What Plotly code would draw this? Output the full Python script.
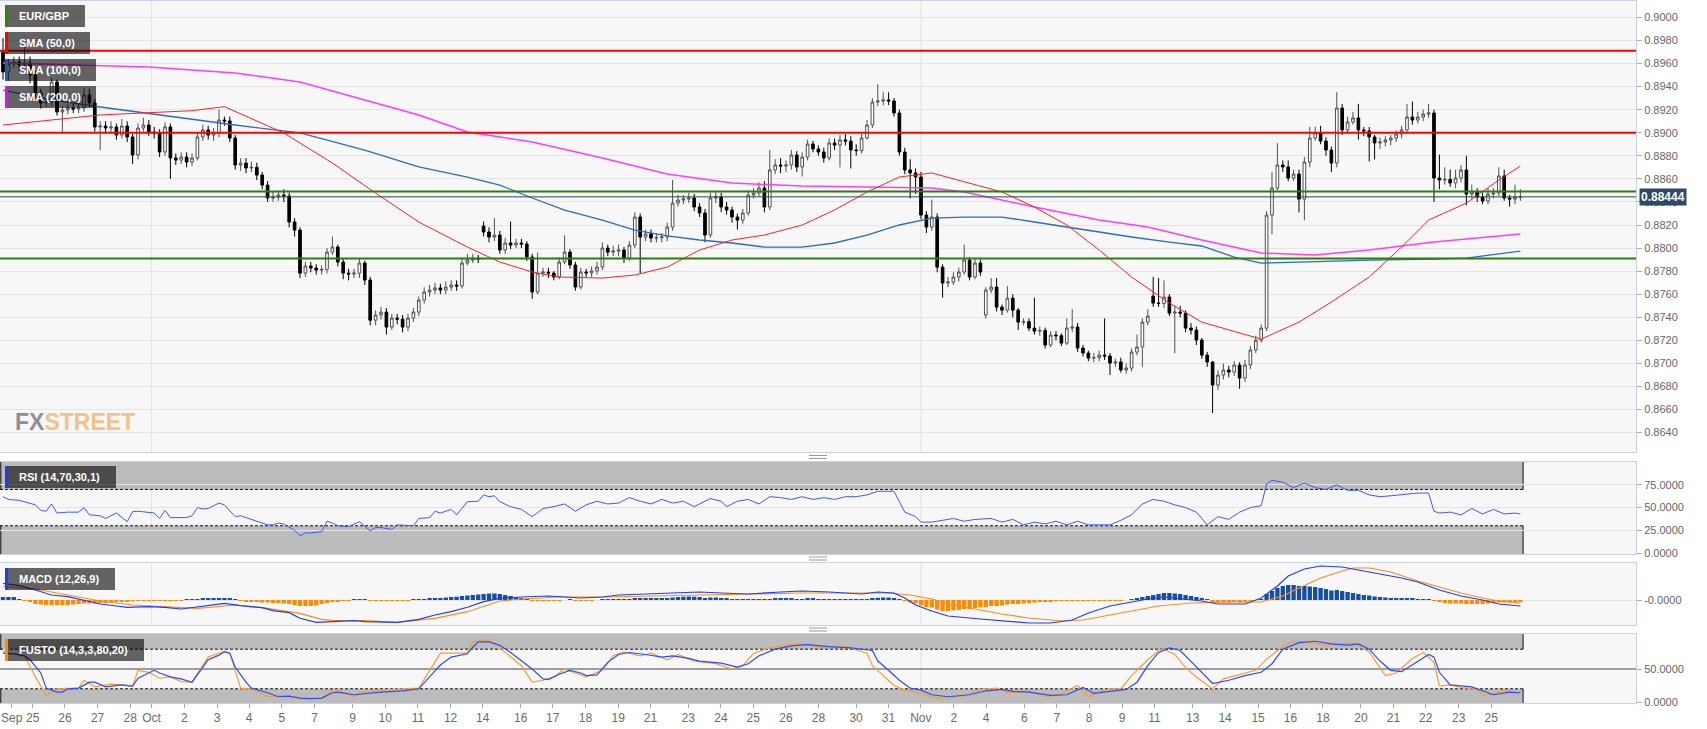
import plotly.graph_objects as go
from plotly.subplots import make_subplots

# ---------------- DATA ----------------
first_open = 0.8970
gap_opens = {89: 0.88191, 182: 0.87419, 213: 0.87584}

close = [
.89527,.89596,.89613,.89587,.89604,.89501,.89344,.89258,.89266,.89440,
.89180,.89197,.89214,.89206,.89214,.89327,.89258,.89050,.89058,.89041,
.89050,.88980,.89058,.88963,.88807,.89041,.89067,.89006,.88998,.88833,
.89050,.88781,.88763,.88789,.88746,.88781,.88963,.89024,.88980,.88998,
.89110,.89102,.88954,.88720,.88737,.88694,.88700,.88633,.88546,.88434,
.88442,.88460,.88451,.88226,.88156,.87783,.87844,.87827,.87809,.87815,
.87965,.88009,.87879,.87783,.87775,.87783,.87870,.87723,.87375,.87419,
.87445,.87315,.87393,.87384,.87315,.87393,.87445,.87549,.87619,.87636,
.87654,.87636,.87662,.87680,.87671,.87870,.87896,.87913,.87904,.88139,
.88096,.88113,.87983,.88044,.88026,.88044,.88035,.87922,.87619,.87783,
.87792,.87783,.87749,.87879,.87965,.87853,.87662,.87792,.87785,.87801,
.87835,.88000,.87965,.87974,.87983,.87913,.88026,.88269,.88096,.88122,
.88087,.88090,.88096,.88182,.88390,.88416,.88425,.88434,.88356,.88304,
.88113,.88434,.88442,.88356,.88330,.88269,.88243,.88304,.88460,.88477,
.88520,.88356,.88677,.88720,.88711,.88720,.88807,.88703,.88789,.88902,
.88859,.88833,.88781,.88911,.88893,.88937,.88928,.88850,.88845,.88954,
.89067,.89266,.89275,.89284,.89275,.89171,.88833,.88677,.88651,.88616,
.88286,.88182,.88269,.87835,.87697,.87705,.87749,.87792,.87896,.87749,
.87870,.87792,.87636,.87662,.87488,.87462,.87566,.87462,.87358,.87362,
.87306,.87280,.87285,.87159,.87246,.87240,.87176,.87306,.87315,.87133,
.87090,.87046,.87050,.87072,.87064,.87003,.87012,.86943,.86960,.87098,
.87142,.87358,.87410,.87523,.87520,.87575,.87436,.87445,.87436,.87306,
.87289,.87202,.87072,.87012,.86812,.86899,.86943,.86925,.86986,.86873,
.86986,.87116,.87202,.87306,.88286,.88520,.88720,.88703,.88607,.88642,
.88425,.88746,.88954,.88998,.88928,.88850,.88737,.89214,.89024,.89093,
.89128,.89024,.89015,.88963,.88911,.88920,.88937,.88954,.88989,.89024,
.89136,.89110,.89136,.89162,.89171,.88607,.88590,.88595,.88564,.88607,
.88677,.88468,.88486,.88442,.88408,.88468,.88477,.88625,.88434,.88425,
.88442,.88444]

high = [
.8982,.8964,.8966,.8966,.8977,.8966,.8954,.8938,.8930,.8948,
.8946,.8923,.8925,.8925,.8926,.8939,.8938,.8929,.8910,.8910,
.8910,.8908,.8912,.8910,.8899,.8908,.8913,.8911,.8905,.8903,
.8909,.8908,.8882,.8883,.8883,.8882,.8900,.8907,.8906,.8904,
.8920,.8914,.8914,.8898,.8878,.8878,.8875,.8874,.8866,.8858,
.8849,.8850,.8851,.8848,.8826,.8818,.8788,.8788,.8786,.8785,
.8800,.8810,.8803,.8791,.8782,.8782,.8791,.8789,.8775,.8746,
.8749,.8748,.8743,.8743,.8742,.8743,.8748,.8758,.8766,.8768,
.8770,.8769,.8771,.8772,.8772,.8791,.8795,.8795,.8794,.8823,
.8818,.8826,.8815,.8809,.8823,.8808,.8808,.8806,.8795,.8796,
.8783,.8783,.8780,.8792,.8811,.8799,.8788,.8783,.8782,.8784,
.8788,.8805,.8803,.8802,.8803,.8801,.8806,.8831,.8830,.8816,
.8816,.8813,.8813,.8822,.8859,.8846,.8846,.8848,.8847,.8839,
.8834,.8848,.8849,.8848,.8840,.8836,.8830,.8834,.8850,.8852,
.8857,.8858,.8885,.8877,.8878,.8876,.8885,.8884,.8883,.8894,
.8893,.8889,.8887,.8895,.8895,.8898,.8899,.8897,.8890,.8899,
.8911,.8930,.8942,.8935,.8935,.8930,.8920,.8887,.8877,.8869,
.8866,.8832,.8842,.8830,.8786,.8775,.8779,.8783,.8803,.8792,
.8791,.8790,.8766,.8774,.8774,.8751,.8767,.8760,.8748,.8739,
.8739,.8757,.8732,.8731,.8728,.8728,.8726,.8739,.8747,.8735,
.8716,.8711,.8709,.8711,.8739,.8709,.8704,.8705,.8700,.8713,
.8725,.8739,.8747,.8775,.8774,.8772,.8760,.8750,.8750,.8746,
.8735,.8732,.8722,.8710,.8702,.8694,.8700,.8698,.8702,.8701,
.8703,.8715,.8724,.8734,.8832,.8866,.8891,.8876,.8876,.8868,
.8868,.8879,.8905,.8905,.8906,.8896,.8888,.8935,.8925,.8914,
.8918,.8925,.8905,.8905,.8898,.8896,.8897,.8898,.8902,.8906,
.8925,.8927,.8918,.8920,.8925,.8920,.8881,.8870,.8868,.8868,
.8872,.8880,.8855,.8852,.8848,.8852,.8852,.8870,.8868,.8846,
.8855,.8851]

low = [
.8946,.8945,.8956,.8954,.8955,.8943,.8930,.8921,.8922,.8923,
.8915,.8900,.8916,.8917,.8917,.8918,.8922,.8901,.8885,.8900,
.8900,.8894,.8895,.8892,.8873,.8877,.8901,.8897,.8895,.8879,
.8880,.8860,.8872,.8873,.8870,.8871,.8876,.8893,.8894,.8893,
.8896,.8906,.8892,.8868,.8867,.8865,.8866,.8859,.8851,.8840,
.8840,.8841,.8840,.8818,.8810,.8774,.8775,.8779,.8777,.8777,
.8778,.8794,.8784,.8773,.8772,.8774,.8774,.8768,.8733,.8733,
.8738,.8725,.8729,.8734,.8727,.8728,.8736,.8741,.8752,.8758,
.8760,.8760,.8760,.8763,.8763,.8765,.8785,.8787,.8787,.8810,
.8805,.8806,.8795,.8795,.8799,.8800,.8800,.8789,.8756,.8760,
.8775,.8774,.8772,.8773,.8786,.8782,.8763,.8764,.8775,.8775,
.8777,.8781,.8793,.8793,.8793,.8787,.8789,.8800,.8778,.8806,
.8805,.8805,.8805,.8806,.8815,.8836,.8838,.8839,.8832,.8827,
.8805,.8809,.8839,.8831,.8829,.8822,.8816,.8821,.8828,.8843,
.8845,.8831,.8833,.8864,.8865,.8866,.8868,.8866,.8862,.8876,
.8883,.8880,.8874,.8876,.8885,.8870,.8889,.8869,.8880,.8882,
.8894,.8904,.8923,.8924,.8924,.8914,.8880,.8864,.8843,.8847,
.8825,.8813,.8815,.8779,.8757,.8766,.8768,.8771,.8777,.8772,
.8773,.8776,.8739,.8761,.8745,.8742,.8744,.8740,.8729,.8733,
.8728,.8725,.8724,.8713,.8714,.8720,.8715,.8716,.8727,.8710,
.8706,.8702,.8701,.8702,.8703,.8690,.8697,.8692,.8691,.8693,
.8707,.8697,.8733,.8749,.8749,.8748,.8741,.8709,.8740,.8727,
.8725,.8716,.8704,.8697,.8657,.8677,.8686,.8688,.8689,.8678,
.8684,.8695,.8709,.8718,.8728,.8812,.8850,.8866,.8858,.8858,
.8831,.8824,.8870,.8893,.8890,.8880,.8866,.8870,.8898,.8899,
.8907,.8894,.8897,.8875,.8877,.8886,.8888,.8889,.8892,.8895,
.8899,.8907,.8908,.8910,.8913,.8840,.8851,.8855,.8853,.8852,
.8857,.8837,.8843,.8840,.8838,.8838,.8843,.8845,.8841,.8836,
.8838,.8841]

sma50_idx = [0,18,35,41,52,61,69,77,86,92,98,103,111,117,123,129,135,141,148,154,
             160,166,172,177,185,191,197,203,209,216,222,233,240,246,253,259,264,271,277,281]
sma50_val = [.89067,.89154,.89191,.89226,.88998,.88737,.88477,.88226,.88009,.87879,
             .87792,.87749,.87740,.87766,.87835,.87983,.88070,.88113,.88200,.88330,
             .88486,.88616,.88651,.88590,.88486,.88356,.88200,.87983,.87749,.87523,
             .87358,.87211,.87358,.87532,.87749,.88009,.88243,.88390,.88590,.88711]

sma100_idx = [0,9,18,30,43,55,67,77,86,92,98,104,111,117,123,129,135,141,148,154,
              160,166,172,178,185,191,197,203,209,216,222,228,233,240,253,265,271,281]
sma100_val = [.89370,.89284,.89223,.89145,.89067,.88998,.88850,.88703,.88616,.88546,
              .88434,.88330,.88243,.88156,.88105,.88070,.88044,.88009,.88009,.88044,
              .88113,.88200,.88260,.88269,.88269,.88226,.88182,.88139,.88096,.88052,
              .88018,.87922,.87870,.87879,.87896,.87904,.87913,.87974]

sma200_idx = [0,27,43,55,67,77,86,98,111,123,135,148,160,172,178,191,203,212,222,233,243,253,265,281]
sma200_val = [.89605,.89570,.89518,.89440,.89284,.89154,.89006,.88920,.88781,.88642,
              .88564,.88538,.88529,.88520,.88486,.88356,.88243,.88182,.88070,.87957,
              .87940,.87983,.88052,.88122]

red_levels = [0.8971, 0.8900]
green_levels = [0.8849, 0.8791]
last_price = 0.88444

rsi_idx = [0,1,3,6,7,8,9,10,12,14,15,16,18,19,21,23,24,25,28,29,
           30,31,34,35,36,37,38,40,41,43,44,45,48,49,50,51,52,53,54,55,
           56,57,59,60,61,62,64,66,67,68,69,70,72,73,76,77,79,80,81,83,
           84,86,88,89,90,91,92,94,96,98,100,102,104,106,108,110,112,114,116,118,
           120,122,124,126,128,131,133,134,136,138,140,142,144,146,148,150,152,154,156,158,
           160,162,165,166,167,169,170,172,174,176,178,180,183,185,187,189,191,193,195,197,
           199,201,203,205,207,209,211,213,215,217,219,221,223,225,227,229,231,233,234,235,
           237,239,241,243,245,247,249,251,253,255,257,259,262,264,265,266,268,270,272,274,
           276,278,280,281]
rsi_val = [62,59,58,53,47,46,54,44,45,45,50,42,41,38,44,34.5,45.5,46,44,38,
           47,39,39,41,50,48.5,49,55,53,40,41,39,33,31,31,33,32,28,25,19,
           22,22,23.5,35,33,30,29,34.5,30,24.5,28,28,26,31,30,38,39,46,44,48,
           42,56.5,57,64,62,63,56.5,51,48,40,49,51,54,46,53,57,54,55,61,57,
           54,59,55,57,51,60,57,51,57,59,54,62,61,59,62,59,61,59,62,62,
           64,68,68,57,45,40,34,34,36,38,35,37,38,34,37,31,34,32,35,31,
           35,31,31,31,36,42,54,59,57,53,50,45,31,40,37,45,50,52,76,80,
           78,72,77,72,70,75,69,69,64,62,63,64,66,66,46,44,45,42,49,43,
           48,43,44,43]

# MACD values in units of 1e-4
macd_idx = [0,3,6,9,12,15,18,21,23,27,30,33,36,40,41,44,48,50,53,55,
            58,61,65,67,70,73,77,80,83,86,89,92,96,101,107,111,114,120,125,129,
            133,138,144,148,153,159,162,165,167,169,172,175,181,185,190,194,198,201,205,209,
            212,215,219,222,225,230,233,236,238,241,244,248,251,255,259,262,266,270,274,277,281]
macd_val = [16.7,14.3,10,5,3.3,0,-4,-6,-7.3,-6.7,-7.3,-9,-6.7,-4,-3.3,-5.7,-7.7,-10.7,-12.7,-18.3,
            -22.3,-21.7,-20.7,-21.7,-22.3,-22.3,-19.3,-15,-11.7,-7.3,-1.7,1.7,3,4,2,3,5,6,7,8,
            7,6,8,9,8,6,8,7,2,-5,-11,-16,-19,-21,-23,-23,-20,-13,-6,-2,
            1,3,1,-1,-4,-4,2,14,24,31,34,33,30,26,22,18,10,4,0,-4,-6]
signal_idx = [0,6,12,18,24,30,36,43,49,55,59,61,67,73,80,86,92,96,103,111,
              120,129,138,148,157,164,168,172,175,181,185,190,196,200,203,207,211,214,220,227,
              233,237,240,244,248,250,253,257,262,266,270,274,277,281]
signal_val = [13.3,11,5,-1,-5,-6.7,-8.3,-5,-8.3,-13.3,-19.3,-20.3,-20.7,-22.3,-18.3,-11.7,-1,1,3,3,
              4,5,6,7,7,7,5,1,-4,-10,-14,-18,-21,-20,-17,-13,-9,-6,-3,-2,
              -2,4,12,22,29,32,32,28,19,13,7,2,-1,-3]
macd_hist = [
3,3,3,1,-1,-2,-4,-4.5,-5,-5,
-5,-5,-5,-4.5,-4,-3.5,-3.5,-3.5,-3,-3,
-2,-2,-1.5,-1.5,-1,-0.7,-0.5,-0.5,-0.5,-0.5,
-0.5,-0.5,-0.5,-0.3,0.2,0.5,1,1.5,2,2,
2,2,1.5,0.5,-0.5,-1.5,-2,-2,-2.5,-2.5,
-3,-3,-3.5,-4,-5,-6,-6,-6,-5.5,-4,
-3,-2,-1.5,-1,-0.5,0.3,0.5,0.3,-0.3,-0.5,
-0.5,-0.5,-0.3,-0.3,-0.3,-0.2,0.3,0.8,1,1.2,
1.5,2,2.5,3,3.3,4,4.5,5,5.5,6,
6.5,6.5,6,5,4,3,2,1,-0.5,-0.5,
-0.5,-0.5,-0.7,-0.5,0,0.3,-0.3,-0.5,-0.5,-0.3,
0,0.5,0.7,0.8,0.8,0.7,0.8,1.5,1.8,1.8,
1.7,1.5,1.3,1.5,2.5,3,3.3,3.5,3.3,3,
2,2.5,2.5,2,1.5,1,0.5,0.5,0.8,1,
1,0.3,1,1.3,1.3,1.2,1.5,1,1,1.3,
1.2,1,0.5,0.8,0.7,0.8,0.7,0.3,0.2,0.5,
1,1.8,2.2,2.5,2.5,2,0.5,-1,-2.5,-3.5,
-5.5,-7,-7.5,-9.5,-11,-11,-10.5,-10,-9,-9,
-8,-7.5,-7,-6,-6,-5.5,-4.5,-4,-4,-3.5,
-3,-2.5,-2,-2,-1.5,-1,-1,-0.5,-0.3,-0.5,
-0.7,-0.8,-0.7,-0.5,-0.3,-0.5,-0.3,-0.3,0,0.8,
1.5,3,4,5,6,7,7,6.5,6,5,
4,3,1.5,0.5,-1.5,-2,-2.5,-2.5,-2,-2.5,
-2,-1,0,1,6,9,12,14,15,15,
14,14,13.5,13,12,11,9.5,10,9,8,
7,6,5,4.5,3.5,3,2.5,2,2,1.5,
1.5,1.2,1,1,0.8,-1,-2,-3,-3.5,-3.5,
-3.5,-4,-4,-4,-4,-3.5,-3,-2.5,-2.5,-2.5,
-2,-2]

sto_k_idx = [0,1,4,6,8,10,14,15,17,20,24,25,27,29,31,33,35,38,41,42,
             44,46,49,52,55,59,61,62,65,66,70,77,81,83,86,87,90,92,94,96,
             98,100,102,104,106,108,111,113,115,118,120,123,125,128,130,132,135,137,139,142,
             145,148,152,156,160,161,163,165,167,169,172,174,178,181,184,186,190,193,196,199,
             201,203,205,207,209,212,214,215,217,219,221,224,226,229,232,234,237,239,242,245,
             248,250,253,255,256,258,261,263,265,266,268,270,273,274,276,278,280,281]
sto_k_val = [77,74,70,38,10,20,21,33,23,27,24,48,45,36,38,31,30,68,77,74,
             21,20,8,10,5,5,18,18,8,14,18,21,74,74,74,91,94,82,68,55,
             30,33,38,50,44,38,48,70,76,70,74,64,72,62,60,58,50,55,74,82,
             86,88,82,84,74,55,40,25,18,15,8,5,10,19,21,14,17,8,12,25,
             8,15,20,20,40,64,78,80,72,52,38,20,35,42,48,65,84,92,90,86,
             88,90,76,52,40,44,66,75,60,24,26,22,20,10,12,18,12,16]
sto_d_idx = [0,2,4,5,7,8,10,11,12,14,16,17,19,20,22,24,25,28,29,31,
             33,35,36,38,40,41,42,43,45,46,49,51,53,55,57,59,61,62,65,66,
             69,70,74,77,79,81,83,86,87,88,90,92,94,96,98,100,101,103,105,107,
             108,110,112,114,116,119,122,124,127,129,131,133,136,138,140,143,146,149,153,157,
             161,162,164,166,168,170,172,175,179,182,185,187,190,194,197,200,202,203,206,208,
             210,212,214,216,218,220,222,224,227,230,233,235,237,240,243,246,249,251,253,255,
             257,259,262,264,265,266,268,270,272,275,276,279,281]
sto_d_val = [74,73,70,64,44,21,15,15,20,21,30,30,23,24,26,24,36,48,44,38,
             35,30,41,64,71,76,74,53,30,21,14,8,9,6,5,6,14,15,11,12,
             14,15,17,20,38,56,68,73,83,91,91,86,75,62,50,35,34,42,48,44,
             40,41,60,72,75,72,68,70,66,62,60,59,53,58,70,80,85,87,84,82,
             78,62,48,33,21,18,11,8,11,17,19,16,15,10,11,22,13,14,18,19,
             30,55,75,82,78,62,45,28,33,40,45,58,80,90,92,88,86,88,80,62,
             48,46,62,72,68,45,26,24,23,14,11,15,14]

tick_pos = [1.6,5.5,11.46,17.52,23.57,27.52,33.57,39.63,45.56,51.65,
            57.7,64.72,70.78,76.83,82.89,88.85,95.87,101.8,107.87,113.94,
            119.89,126.9,132.96,138.93,144.98,151.02,157.98,163.98,169.98,176.07,
            182.07,189.15,195.15,201.15,207.24,213.24,220.31,226.31,232.43,238.43,
            244.43,251.48,257.48,263.48,269.59,275.59]
tick_text = ['Sep','25','26','27','28','Oct','2','3','4','5',
             '7','9','10','11','12','14','16','17','18','19',
             '21','23','24','25','26','28','30','31','Nov','2',
             '4','6','7','8','9','11','13','14','15','16',
             '18','20','21','22','23','25']
price_ticks = [0.8640,0.8660,0.8680,0.8700,0.8720,0.8740,0.8760,0.8780,0.8800,0.8820,
               0.8840,0.8860,0.8880,0.8900,0.8920,0.8940,0.8960,0.8980,0.9000]

# ---------------- FIGURE ----------------
n = len(close)
idx = list(range(n))
opens = [first_open] + close[:-1]
for k, v in gap_opens.items():
    opens[k] = v

W, H = 1707, 729
ML, MR, MT, MB = 0, 71, 1, 26
PW = W - ML - MR
PH = H - MT - MB


def fx(px):
    return (px - ML) / PW


def fy(py):
    return (H - MB - py) / PH


FONT = 'Arial, Liberation Sans, sans-serif'
BORDER = '#c9d1e2'
xr = [-0.5556, 302.41]

fig = make_subplots(rows=4, cols=1, shared_xaxes=True, vertical_spacing=0.01)

fig.add_trace(go.Candlestick(
    x=idx, open=opens, high=high, low=low, close=close,
    increasing=dict(line=dict(color='#505050', width=1), fillcolor='#ffffff'),
    decreasing=dict(line=dict(color='#000000', width=1), fillcolor='#000000'),
    whiskerwidth=0, showlegend=False, hoverinfo='skip'), row=1, col=1)

fig.add_trace(go.Scatter(x=sma200_idx, y=sma200_val, mode='lines',
                         line=dict(color='#ff3dff', width=1.5), hoverinfo='skip'), row=1, col=1)
fig.add_trace(go.Scatter(x=sma100_idx, y=sma100_val, mode='lines',
                         line=dict(color='#2d6cc0', width=1.3), hoverinfo='skip'), row=1, col=1)
fig.add_trace(go.Scatter(x=sma50_idx, y=sma50_val, mode='lines',
                         line=dict(color='#ff2020', width=1), hoverinfo='skip'), row=1, col=1)

fig.add_trace(go.Scatter(x=rsi_idx, y=rsi_val, mode='lines',
                         line=dict(color='#3d5afe', width=1), hoverinfo='skip'), row=2, col=1)

fig.add_trace(go.Bar(x=idx, y=macd_hist,
                     marker=dict(color=['#14509e' if v >= 0 else '#ff8a00' for v in macd_hist],
                                 line=dict(width=0)),
                     width=0.8, hoverinfo='skip'), row=3, col=1)
fig.add_trace(go.Scatter(x=signal_idx, y=signal_val, mode='lines',
                         line=dict(color='#ff8c1a', width=1.2), hoverinfo='skip'), row=3, col=1)
fig.add_trace(go.Scatter(x=macd_idx, y=macd_val, mode='lines',
                         line=dict(color='#1e3cff', width=1.2), hoverinfo='skip'), row=3, col=1)

fig.add_trace(go.Scatter(x=sto_k_idx, y=sto_k_val, mode='lines',
                         line=dict(color='#ff9a2e', width=1.2), hoverinfo='skip'), row=4, col=1)
fig.add_trace(go.Scatter(x=sto_d_idx, y=sto_d_val, mode='lines',
                         line=dict(color='#2a4dff', width=1.2), hoverinfo='skip'), row=4, col=1)

shapes = []
annotations = []

# month gridlines
for pos, txt in zip(tick_pos, tick_text):
    if txt in ('Oct', 'Nov'):
        for r in ('', '2', '3', '4'):
            shapes.append(dict(type='line', xref='x' + r, yref='y%s domain' % r,
                               x0=pos, x1=pos, y0=0, y1=1, layer='below',
                               line=dict(color='#e2e2e2', width=1)))

# level lines
for lv in red_levels:
    shapes.append(dict(type='line', xref='x domain', yref='y', x0=0, x1=1, y0=lv, y1=lv,
                       line=dict(color='#ff0000', width=2), layer='above'))
for lv in green_levels:
    shapes.append(dict(type='line', xref='x domain', yref='y', x0=0, x1=1, y0=lv, y1=lv,
                       line=dict(color='#2a7f0a', width=2), layer='above'))
shapes.append(dict(type='line', xref='x domain', yref='y', x0=0, x1=1, y0=last_price, y1=last_price,
                   line=dict(color='#2d4466', width=1), layer='above'))

# indicator bands
band_end = n - 0.5


def bands(r, lo, hi, ymin, ymax):
    xa, ya = 'x' + r, 'y' + r
    for (a, b, edge) in ((hi, ymax, hi), (ymin, lo, lo)):
        shapes.append(dict(type='rect', xref=xa, yref=ya, x0=xr[0], x1=band_end, y0=a, y1=b,
                           fillcolor='#bcbcbc', line=dict(width=0), layer='below'))
        shapes.append(dict(type='line', xref=xa, yref=ya, x0=xr[0], x1=band_end, y0=edge, y1=edge,
                           line=dict(color='#111111', width=1, dash='3px,2px'), layer='below'))
        shapes.append(dict(type='line', xref=xa, yref=ya, x0=band_end, x1=band_end, y0=a, y1=b,
                           line=dict(color='#111111', width=1), layer='below'))
        shapes.append(dict(type='line', xref=xa, yref=ya, x0=xr[0] + 0.15, x1=xr[0] + 0.15, y0=a, y1=b,
                           line=dict(color='#111111', width=1), layer='below'))


bands('2', 30, 70, -1.1, 100.2)
bands('4', 20, 80, -1.5, 103)
shapes.append(dict(type='line', xref='x4', yref='y4', x0=xr[0], x1=xr[1], y0=50, y1=50,
                   line=dict(color='#444444', width=1), layer='below'))

# panel drag handles
for gy in (457, 558.5, 629.5):
    for dy in (-1.5, 1.5):
        shapes.append(dict(type='line', xref='paper', yref='paper',
                           x0=fx(809), x1=fx(827), y0=fy(gy + dy), y1=fy(gy + dy),
                           line=dict(color='#9a9a9a', width=1)))

# legend boxes
boxes = [
    ('EUR/GBP', '#2a8a00', 5, 5, 85, 27),
    ('SMA (50,0)', '#ff0000', 5, 32, 90, 54),
    ('SMA (100,0)', '#1a5fc0', 5, 59, 96, 81),
    ('SMA (200,0)', '#ff00ff', 5, 86, 96, 108),
    ('RSI (14,70,30,1)', '#1a3cff', 5, 466, 116, 488),
    ('MACD (12,26,9)', '#1a3cff', 5, 568, 115, 590),
    ('FUSTO (14,3,3,80,20)', '#ff8c00', 5, 639, 144, 661),
]
for label, col, x0, y0, x1, y1 in boxes:
    shapes.append(dict(type='rect', xref='paper', yref='paper',
                       x0=fx(x0), x1=fx(x1), y0=fy(y1), y1=fy(y0),
                       fillcolor='rgba(0,0,0,0.6)', line=dict(width=0), layer='above'))
    shapes.append(dict(type='rect', xref='paper', yref='paper',
                       x0=fx(x0), x1=fx(x0 + 3), y0=fy(y1), y1=fy(y0),
                       fillcolor=col, line=dict(width=0), layer='above'))
    annotations.append(dict(xref='paper', yref='paper', x=fx(17), y=fy((y0 + y1) / 2),
                            xanchor='left', yanchor='middle', showarrow=False,
                            text='<b>%s</b>' % label,
                            font=dict(family=FONT, size=11, color='#ffffff')))

# last price tag
annotations.append(dict(xref='paper', yref='y', x=1, y=last_price, xanchor='left', yanchor='middle',
                        xshift=3, showarrow=False, text='<b>%.5f</b>' % last_price,
                        bgcolor='#2e4868', borderpad=1,
                        font=dict(family=FONT, size=12, color='#ffffff')))

# watermark
annotations.append(dict(xref='paper', yref='paper', x=fx(13), y=fy(437), xanchor='left', yanchor='bottom',
                        showarrow=False,
                        text='<b><span style="color:#8e9096">FX</span><span style="color:#f4c189">STREET</span></b>',
                        font=dict(family='Liberation Sans Narrow, Arial Narrow, Arial, sans-serif',
                                  size=23)))

fig.update_layout(
    width=W, height=H, margin=dict(l=ML, r=MR, t=MT, b=MB),
    paper_bgcolor='#ffffff', plot_bgcolor='#f7f7f7', showlegend=False,
    bargap=0.15, hovermode=False, font=dict(family=FONT),
    shapes=shapes, annotations=annotations,
)

doms = {'yaxis': [fy(452), fy(1)], 'yaxis2': [fy(554), fy(462)],
        'yaxis3': [fy(625), fy(563)], 'yaxis4': [fy(703), fy(634)]}
yset = dict(side='right', ticks='outside', ticklen=5, tickcolor='#b0b0b0',
            tickfont=dict(family=FONT, size=11, color='#666666'),
            showline=True, mirror=True, linecolor=BORDER, linewidth=1,
            gridcolor='#e4e4e4', zeroline=False)
fig.update_layout(
    yaxis=dict(yset, domain=doms['yaxis'], range=[0.86232, 0.90142],
               tickmode='array', tickvals=price_ticks, ticktext=['%.4f' % t for t in price_ticks]),
    yaxis2=dict(yset, domain=doms['yaxis2'], range=[-1.1, 100.2], tickmode='array',
                tickvals=[0, 25, 50, 75], ticktext=['0.0000', '25.0000', '50.0000', '75.0000']),
    yaxis3=dict(yset, domain=doms['yaxis3'], range=[-25, 37], tickmode='array',
                tickvals=[0], ticktext=['-0.0000']),
    yaxis4=dict(yset, domain=doms['yaxis4'], range=[-1.5, 103], tickmode='array',
                tickvals=[0, 50], ticktext=['0.0000', '50.0000'], showgrid=False),
)
fig.update_xaxes(range=xr, showgrid=False, zeroline=False, showline=True, mirror=True,
                 linecolor=BORDER, linewidth=1, rangeslider_visible=False)
fig.update_xaxes(showticklabels=False, ticks='', row=1, col=1)
fig.update_xaxes(showticklabels=False, ticks='', row=2, col=1)
fig.update_xaxes(showticklabels=False, ticks='', row=3, col=1)
fig.update_xaxes(tickmode='array', tickvals=tick_pos, ticktext=tick_text, ticks='outside',
                 ticklen=4, tickcolor='#aaaaaa', showticklabels=True, ticklabeloverflow='allow',
                 tickfont=dict(family=FONT, size=12, color='#6b6b6b'), row=4, col=1)

fig.write_html("out.html", config={'displayModeBar': False},
               post_script="document.body.style.margin='0px';")
